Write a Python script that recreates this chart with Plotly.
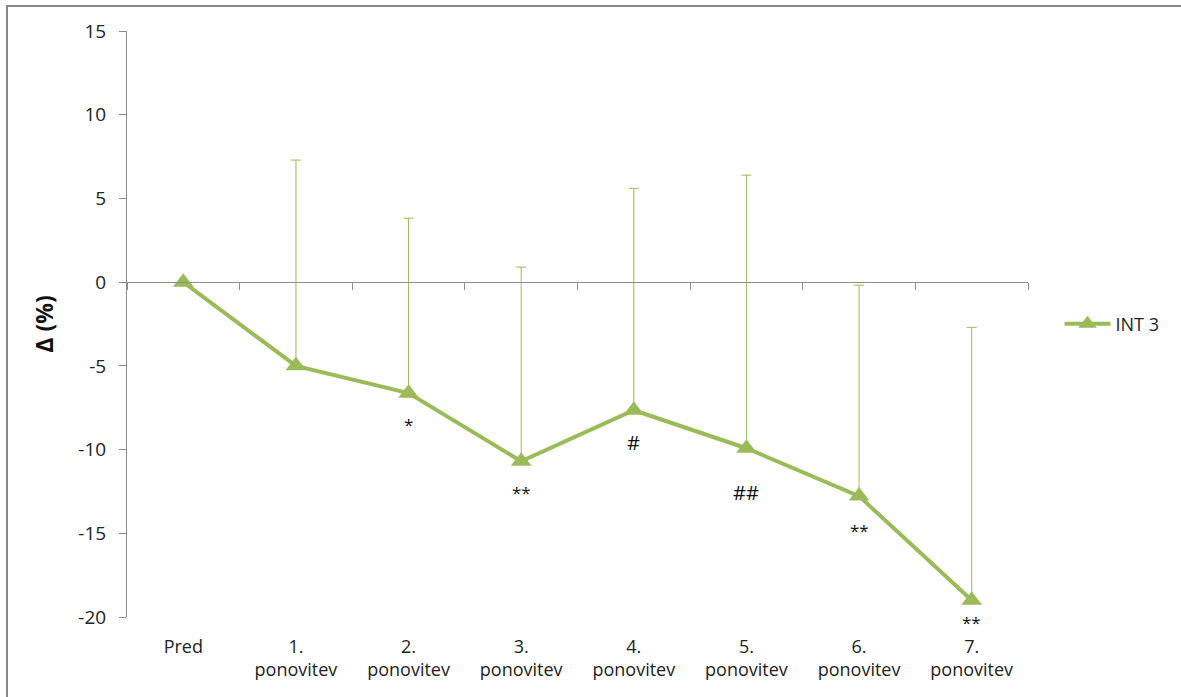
import plotly.graph_objects as go

# Measurement points and mean change (%) with upper error bars
categories = ["Pred", "1.<br>ponovitev", "2.<br>ponovitev", "3.<br>ponovitev",
              "4.<br>ponovitev", "5.<br>ponovitev", "6.<br>ponovitev", "7.<br>ponovitev"]
int3_values = [0.0, -5.0, -6.63, -10.7, -7.65, -9.92, -12.78, -19.0]
int3_error_plus = [0.0, 12.29, 10.45, 11.6, 13.25, 16.31, 12.6, 16.3]

# Significance markers shown beneath points (pixel offset below each point)
sig_labels = ["", "", "*", "**", "#", "##", "**", "**"]
sig_offset = [0, 0, -31, -31, -32, -44, -34, -22]

y_ticks = [15, 10, 5, 0, -5, -10, -15, -20]
y_ticktext = [str(v) for v in y_ticks]

GREEN = "#9BBB59"
AXIS_GRAY = "#8C8C8C"
FONT = "Open Sans"

x_idx = list(range(len(categories)))

fig = go.Figure()
fig.add_trace(go.Scatter(
    x=x_idx, y=int3_values, name="INT 3", mode="lines+markers",
    line=dict(color=GREEN, width=4),
    marker=dict(symbol="triangle-up", size=18, color=GREEN),
    error_y=dict(type="data", symmetric=False, array=int3_error_plus,
                 arrayminus=[0] * len(int3_values),
                 color=GREEN, thickness=1, width=5),
    cliponaxis=False,
))

for xi, lab, yv, off in zip(x_idx, sig_labels, int3_values, sig_offset):
    if lab:
        size = 20 if "#" in lab else 17
        fig.add_annotation(x=xi, y=yv, text=lab, showarrow=False, yshift=off,
                           font=dict(family=FONT, size=size, color="#111111"))

fig.update_layout(
    width=1181, height=697,
    margin=dict(l=127, r=153, t=31, b=80),
    paper_bgcolor="white", plot_bgcolor="white",
    font=dict(family=FONT, size=18, color="#222222"),
    showlegend=True,
    legend=dict(x=1.035, y=0.5, xanchor="left", yanchor="middle",
                font=dict(family=FONT, size=18, color="#222222"),
                itemwidth=46, bgcolor="rgba(0,0,0,0)"),
    xaxis=dict(range=[-0.5, len(categories) - 0.5], tickvals=x_idx,
               ticktext=categories, showline=False, showgrid=False,
               zeroline=False, ticks="", ticklabelstandoff=17,
               tickfont=dict(size=18)),
    xaxis2=dict(range=[-0.5, len(categories) - 0.5], overlaying="x",
                anchor="free", position=20 / 35, side="bottom",
                showline=True, linecolor=AXIS_GRAY, linewidth=1,
                ticks="outside", ticklen=7, tickcolor=AXIS_GRAY,
                tickvals=[i - 0.5 for i in range(len(categories) + 1)],
                showticklabels=False, showgrid=False, zeroline=False),
    yaxis=dict(range=[-20, 15], tickvals=y_ticks, ticktext=y_ticktext,
               showgrid=False, zeroline=False, showline=True,
               linecolor=AXIS_GRAY, linewidth=1, ticks="outside", ticklen=7,
               tickcolor=AXIS_GRAY, ticklabelstandoff=9,
               tickfont=dict(size=19),
               title=dict(text="<b>Δ (%)</b>", font=dict(size=23, color="#111111"),
                          standoff=18)),
)

# dummy trace to activate the zero-level category axis
fig.add_trace(go.Scatter(x=[0], y=[0], xaxis="x2", mode="markers",
                         marker=dict(opacity=0), showlegend=False,
                         hoverinfo="skip"))

# outer chart frame
fig.add_shape(type="rect", xref="paper", yref="paper",
              x0=-0.1332, x1=1.3, y0=-0.3, y1=1.0427,
              line=dict(color="#888888", width=2), layer="below")

fig.write_html("out.html")
